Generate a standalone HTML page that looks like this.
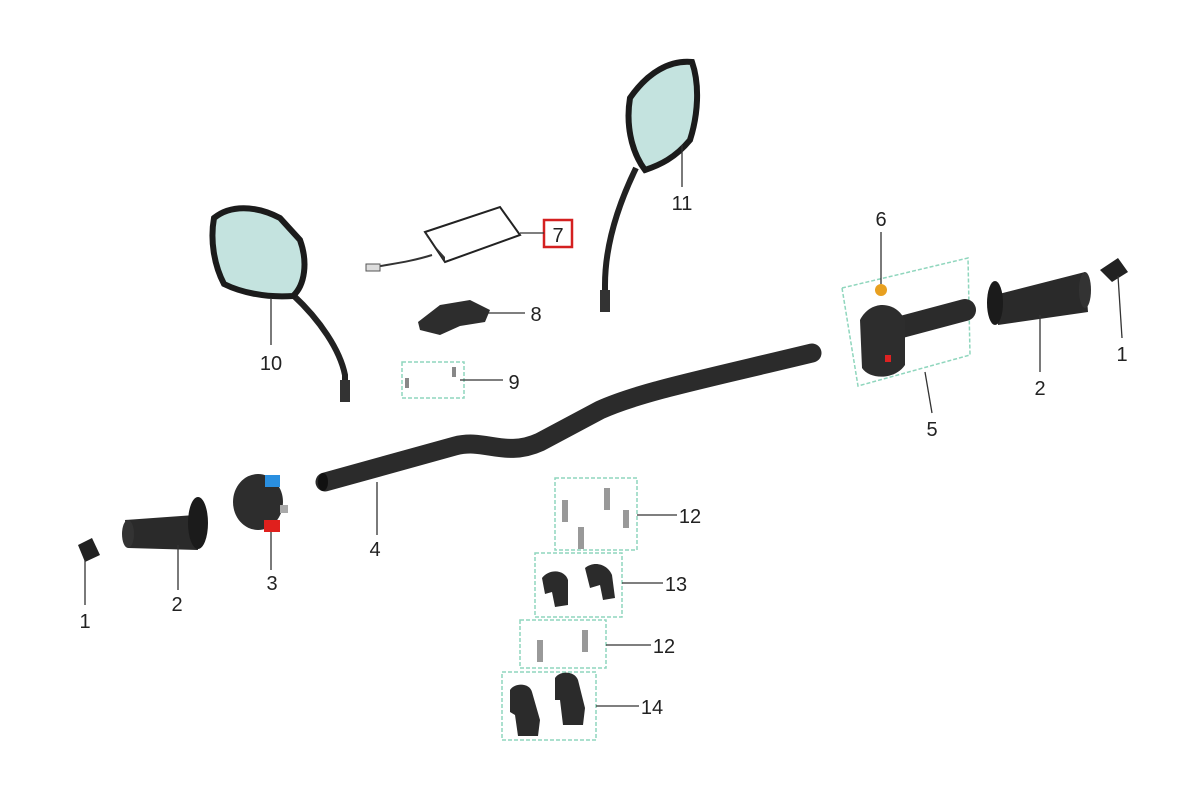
<!DOCTYPE html>
<html><head><meta charset="utf-8"><style>
html,body{margin:0;padding:0;background:#fff;}
svg{display:block;}
text{font-family:"Liberation Sans",sans-serif;font-size:20px;fill:#222;}
</style></head><body>
<svg width="1200" height="800" viewBox="0 0 1200 800" xmlns="http://www.w3.org/2000/svg">
<rect width="1200" height="800" fill="#fff"/>
<!-- handlebar -->
<path d="M325,482 L455,446 C485,438 505,458 540,442 L600,410 C640,392 700,380 812,353" fill="none" stroke="#2b2b2b" stroke-width="19" stroke-linecap="round"/>
<ellipse cx="323" cy="482" rx="5" ry="9" fill="#111"/>
<!-- mirror 10 -->
<path d="M345,400 L345,375 C340,350 320,320 293,295" fill="none" stroke="#222" stroke-width="6"/>
<path d="M214,218 C230,205 255,205 280,218 L300,240 C308,262 305,285 293,296 C265,298 240,292 224,284 C214,265 210,240 214,218Z" fill="#c4e3df" stroke="#1b1b1b" stroke-width="6"/>
<rect x="340" y="380" width="10" height="22" fill="#333"/>
<!-- mirror 11 -->
<path d="M605,305 L605,285 C605,245 618,205 636,168" fill="none" stroke="#222" stroke-width="6"/>
<path d="M630,98 C648,72 670,60 692,62 C700,85 698,115 690,140 C675,158 660,165 645,170 C630,150 626,122 630,98Z" fill="#c4e3df" stroke="#1b1b1b" stroke-width="6"/>
<rect x="600" y="290" width="10" height="22" fill="#333"/>
<!-- item 7 -->
<path d="M425,232 L500,207 L520,235 L445,262Z" fill="#fff" stroke="#222" stroke-width="2"/>
<path d="M425,232 L445,262 L445,257 L427,237Z" fill="#333"/>
<path d="M432,255 C410,262 390,264 370,268" fill="none" stroke="#333" stroke-width="2"/>
<rect x="366" y="264" width="14" height="7" fill="#ddd" stroke="#555"/>
<rect x="544" y="220" width="28" height="27" fill="none" stroke="#d42020" stroke-width="2.5"/>
<!-- item 8 -->
<path d="M418,322 L440,305 L470,300 L490,310 L485,322 L460,326 L440,335 L420,330Z" fill="#2d2d2d"/>
<!-- dashed boxes -->
<g fill="none" stroke="#8fd6bd" stroke-width="1.5" stroke-dasharray="4,2">
<rect x="402" y="362" width="62" height="36"/>
<path d="M842,288 L968,258 L970,355 L858,386Z"/>
<rect x="555" y="478" width="82" height="72"/>
<rect x="535" y="553" width="87" height="64"/>
<rect x="520" y="620" width="86" height="48"/>
<rect x="502" y="672" width="94" height="68"/>
</g>
<g fill="#888"><rect x="405" y="378" width="4" height="10"/><rect x="452" y="367" width="4" height="10"/></g>
<!-- right assembly 5 -->
<path d="M890,330 L965,310" stroke="#2b2b2b" stroke-width="22" stroke-linecap="round"/>
<path d="M860,320 C870,300 895,300 905,320 L905,365 C895,380 870,380 862,368Z" fill="#2d2d2d"/>
<rect x="885" y="355" width="6" height="7" fill="#d22"/>
<circle cx="881" cy="290" r="6" fill="#e8a020"/>
<!-- right grip -->
<path d="M995,295 L1085,272 L1088,312 L998,325Z" fill="#2a2a2a"/>
<ellipse cx="995" cy="303" rx="8" ry="22" fill="#1b1b1b"/>
<ellipse cx="1085" cy="290" rx="6" ry="18" fill="#333"/>
<path d="M1100,270 L1118,258 L1128,272 L1112,282Z" fill="#222"/>
<!-- left grip -->
<path d="M125,520 L195,515 L198,550 L128,548Z" fill="#2a2a2a"/>
<ellipse cx="128" cy="534" rx="6" ry="14" fill="#333"/>
<ellipse cx="198" cy="523" rx="10" ry="26" fill="#1b1b1b"/>
<path d="M78,545 L92,538 L100,555 L85,562Z" fill="#222"/>
<!-- switch 3 -->
<ellipse cx="258" cy="502" rx="25" ry="28" fill="#2d2d2d"/>
<rect x="265" y="475" width="15" height="12" fill="#2a8fe0"/>
<rect x="264" y="520" width="16" height="12" fill="#e0201d"/>
<rect x="280" y="505" width="8" height="8" fill="#aaa"/>
<!-- screws 12 -->
<g fill="#999">
<rect x="562" y="500" width="6" height="22"/><rect x="604" y="488" width="6" height="22"/><rect x="578" y="527" width="6" height="22"/><rect x="623" y="510" width="6" height="18"/>
<rect x="537" y="640" width="6" height="22"/><rect x="582" y="630" width="6" height="22"/>
</g>
<!-- clamps 13 -->
<path d="M542,578 C550,568 565,570 568,580 L568,605 L555,607 L552,592 L545,594Z" fill="#2b2b2b"/>
<path d="M585,568 C595,560 608,565 612,575 L615,598 L603,600 L600,585 L590,588Z" fill="#2b2b2b"/>
<!-- risers 14 -->
<path d="M510,690 C515,682 530,683 532,692 L540,720 L538,736 L518,736 L515,715 L510,712Z" fill="#2b2b2b"/>
<path d="M555,678 C560,670 575,671 578,680 L585,708 L583,725 L563,725 L560,700 L555,700Z" fill="#2b2b2b"/>
<!-- leader lines -->
<g stroke="#333" stroke-width="1.3" fill="none">
<line x1="85" y1="605" x2="85" y2="560"/>
<line x1="178" y1="590" x2="178" y2="545"/>
<line x1="271" y1="570" x2="271" y2="532"/>
<line x1="377" y1="535" x2="377" y2="482"/>
<line x1="932" y1="413" x2="925" y2="372"/>
<line x1="881" y1="232" x2="881" y2="284"/>
<line x1="488" y1="313" x2="525" y2="313"/>
<line x1="460" y1="380" x2="503" y2="380"/>
<line x1="271" y1="345" x2="271" y2="298"/>
<line x1="682" y1="187" x2="682" y2="145"/>
<line x1="637" y1="515" x2="677" y2="515"/>
<line x1="622" y1="583" x2="663" y2="583"/>
<line x1="606" y1="645" x2="651" y2="645"/>
<line x1="596" y1="706" x2="639" y2="706"/>
<line x1="1122" y1="338" x2="1118" y2="276"/>
<line x1="1040" y1="372" x2="1040" y2="315"/>
<line x1="520" y1="233" x2="544" y2="233"/>
</g>
<g text-anchor="middle">
<text x="85" y="628">1</text><text x="1122" y="361">1</text>
<text x="177" y="611">2</text><text x="1040" y="395">2</text>
<text x="272" y="590">3</text><text x="375" y="556">4</text>
<text x="932" y="436">5</text><text x="881" y="226">6</text>
<text x="558" y="242">7</text><text x="536" y="321">8</text>
<text x="514" y="389">9</text><text x="271" y="370">10</text>
<text x="682" y="210">11</text><text x="690" y="523">12</text>
<text x="664" y="653">12</text><text x="676" y="591">13</text>
<text x="652" y="714">14</text>
</g>
</svg>
</body></html>
